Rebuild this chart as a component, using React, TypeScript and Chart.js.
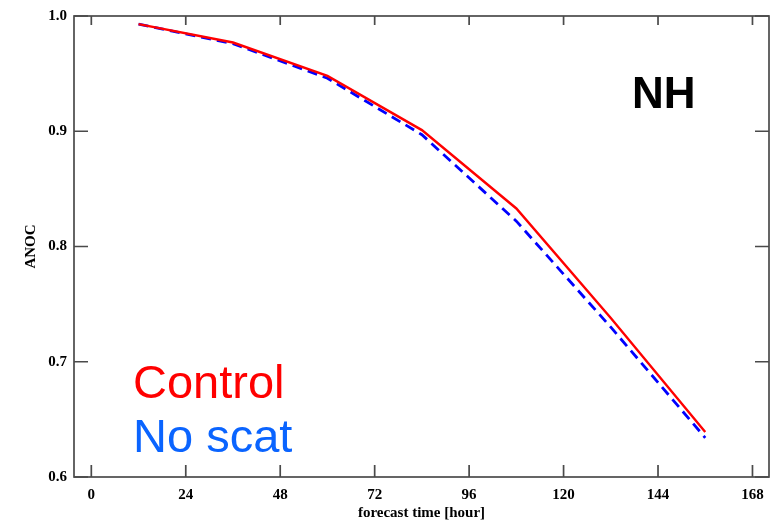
import React, { useEffect, useRef } from "react";
import { Chart, registerables } from "chart.js";

Chart.register(...registerables);

const hours = [12, 36, 60, 84, 108, 132, 156];
const control = [0.993, 0.977, 0.948, 0.901, 0.833, 0.738, 0.639];
const noScat = [0.993, 0.976, 0.946, 0.897, 0.822, 0.73, 0.634];
const xTicks = [0, 24, 48, 72, 96, 120, 144, 168];
const yTicks = [0.6, 0.7, 0.8, 0.9, 1.0];

const framePlugin = {
  id: "frame",
  afterDraw(chart: any) {
    const { ctx, chartArea: a, scales } = chart;
    ctx.save();
    ctx.strokeStyle = "#4a4a4a";
    ctx.lineWidth = 1.7;
    ctx.strokeRect(a.left, a.top, a.right - a.left, a.bottom - a.top);
    ctx.beginPath();
    for (const v of xTicks) {
      const px = scales.x.getPixelForValue(v);
      ctx.moveTo(px, a.bottom);
      ctx.lineTo(px, a.bottom - 12);
      ctx.moveTo(px, a.top);
      ctx.lineTo(px, a.top + 9);
    }
    for (const v of yTicks) {
      const py = scales.y.getPixelForValue(v);
      ctx.moveTo(a.left, py);
      ctx.lineTo(a.left + 14, py);
      ctx.moveTo(a.right, py);
      ctx.lineTo(a.right - 14, py);
    }
    ctx.stroke();

    ctx.textBaseline = "alphabetic";
    ctx.textAlign = "left";
    ctx.font = "47px 'Liberation Sans', Arial, sans-serif";
    ctx.fillStyle = "#ff0000";
    ctx.fillText("Control", a.left + 59, 398);
    ctx.fillStyle = "#0a64ff";
    ctx.fillText("No scat", a.left + 59, 452);
    ctx.font = "bold 44px 'Liberation Sans', Arial, sans-serif";
    ctx.fillStyle = "#000000";
    ctx.fillText("NH", 632, 108);
    ctx.restore();
  },
};

export default function App() {
  const ref = useRef<HTMLCanvasElement>(null);
  useEffect(() => {
    document.body.style.margin = "0";
    const serif = "'Liberation Serif', 'Times New Roman', serif";
    const chart = new Chart(ref.current!, {
      type: "line",
      data: {
        datasets: [
          {
            label: "Control",
            data: hours.map((h, i) => ({ x: h, y: control[i] })),
            borderColor: "#ff0000",
            borderWidth: 2.4,
            pointRadius: 0,
            tension: 0,
            order: 0,
          },
          {
            label: "No scat",
            data: hours.map((h, i) => ({ x: h, y: noScat[i] })),
            borderColor: "#0000ff",
            borderWidth: 2.8,
            borderDash: [10, 6],
            pointRadius: 0,
            tension: 0,
            order: 1,
          },
        ],
      },
      options: {
        animation: false,
        responsive: false,
        layout: { padding: { left: 22, right: 5, top: 13, bottom: 0 } },
        plugins: { legend: { display: false }, tooltip: { enabled: false } },
        scales: {
          x: {
            type: "linear",
            min: -4.4,
            max: 172.2,
            afterBuildTicks: (s: any) => {
              s.ticks = xTicks.map((v) => ({ value: v }));
            },
            grid: { display: false, drawTicks: false },
            border: { display: false },
            ticks: {
              padding: 9,
              color: "#000",
              font: { family: serif, weight: "bold", size: 15 },
              maxRotation: 0,
            },
            title: {
              display: true,
              text: "forecast time [hour]",
              color: "#000",
              font: { family: serif, weight: "bold", size: 15 },
              padding: { top: 0, bottom: 0 },
            },
            afterFit: (s: any) => {
              s.height = 45;
            },
          },
          y: {
            type: "linear",
            min: 0.6,
            max: 1.0,
            afterBuildTicks: (s: any) => {
              s.ticks = yTicks.map((v) => ({ value: v }));
            },
            grid: { display: false, drawTicks: false },
            border: { display: false },
            ticks: {
              padding: 7,
              color: "#000",
              font: { family: serif, weight: "bold", size: 15 },
              callback: (v: any) => Number(v).toFixed(1),
            },
            title: {
              display: true,
              text: "ANOC",
              color: "#000",
              font: { family: serif, weight: "bold", size: 15 },
              padding: { top: 0, bottom: 0 },
            },
            afterFit: (s: any) => {
              s.width = 52;
            },
          },
        },
      },
      plugins: [framePlugin],
    } as any);
    return () => chart.destroy();
  }, []);
  return <canvas ref={ref} width={774} height={522} style={{ display: "block" }} />;
}
